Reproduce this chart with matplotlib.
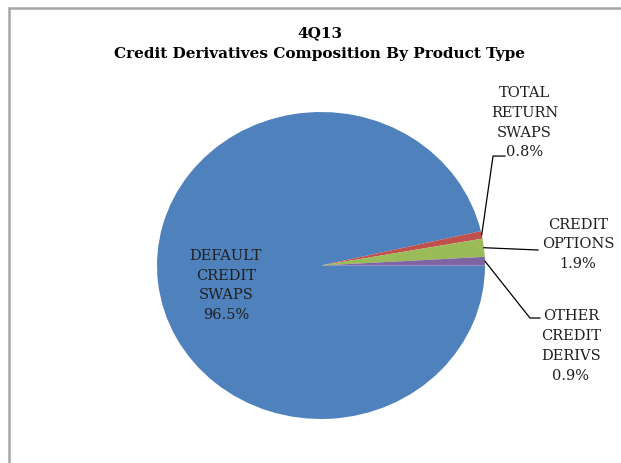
import matplotlib
matplotlib.use('Agg')
import matplotlib.pyplot as plt
from matplotlib.patches import Rectangle
import numpy as np

# data
labels = ['DEFAULT\nCREDIT\nSWAPS', 'TOTAL\nRETURN\nSWAPS', 'CREDIT\nOPTIONS', 'OTHER\nCREDIT\nDERIVS']
shares = [96.5, 0.8, 1.9, 0.9]
colors = ['#4F81BD', '#C0504D', '#9BBB59', '#8064A2']

plt.rcParams['font.family'] = ['DejaVu Serif']

fig = plt.figure(figsize=(6.21, 4.63), dpi=100)

# gray chart frame (right/bottom edges run off the image)
fig.patches.append(Rectangle((9 / 621, -0.1), 1.2, 1 - 8 / 463 + 0.1, transform=fig.transFigure,
                             fill=False, edgecolor='#A6A6A6', linewidth=1.8))

fig.text(320 / 621, 1 - 33 / 463, '4Q13', ha='center', va='center', fontsize=11, fontweight='bold')
fig.text(320 / 621, 1 - 54 / 463, 'Credit Derivatives Composition By Product Type',
         ha='center', va='center', fontsize=11, fontweight='bold')

# pie box: centre (321, 265.5) px, rx 164, ry 153.5
ax = fig.add_axes([157 / 621, 44 / 463, 328 / 621, 307 / 463])
wedges, _ = ax.pie(shares, colors=colors, startangle=0, counterclock=False,
                   wedgeprops=dict(linewidth=0))
ax.set_aspect('auto')
ax.set_xlim(-1, 1)
ax.set_ylim(-1, 1)
ax.axis('off')

# label positions (data coords of the pie box) and leader-line paths
txt_pos = [(-0.58, -0.13), (1.24, 0.93), (1.567, 0.137), (1.524, -0.524)]
leaders = [None,
           [(1.049, 0.713), (1.122, 0.713)],
           [(1.323, 0.101)],
           [(1.274, -0.342), (1.335, -0.342)]]

for i, w in enumerate(wedges):
    txt = labels[i] + '\n%.1f%%' % shares[i]
    ax.text(txt_pos[i][0], txt_pos[i][1], txt, ha='center', va='center',
            fontsize=10.5, linespacing=1.52, color='#1F1F1F')
    if leaders[i] is None:
        continue
    mid = np.deg2rad((w.theta1 + w.theta2) / 2)
    xs = [np.cos(mid)] + [p[0] for p in leaders[i]]
    ys = [np.sin(mid)] + [p[1] for p in leaders[i]]
    ax.plot(xs, ys, color='black', linewidth=0.9, clip_on=False)

fig.savefig('out.png', dpi=100)
